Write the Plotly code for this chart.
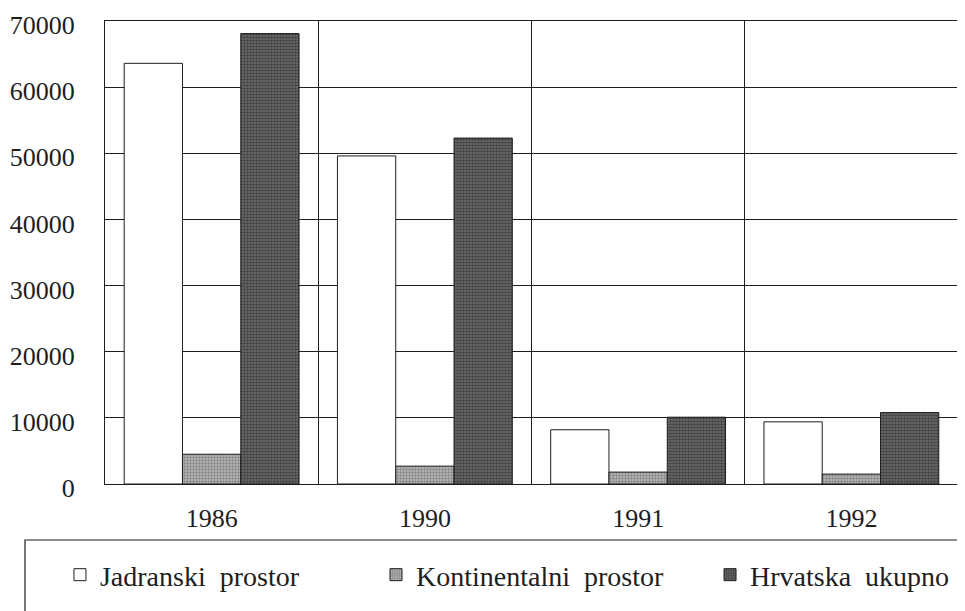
import plotly.graph_objects as go

years = ["1986", "1990", "1991", "1992"]
jadranski = [63600, 49600, 8200, 9400]
kontinentalni = [4500, 2700, 1800, 1500]
hrvatska = [68100, 52300, 10100, 10800]
y_ticks = [0, 10000, 20000, 30000, 40000, 50000, 60000, 70000]
series_names = ["Jadranski\u00a0\u00a0prostor", "Kontinentalni\u00a0\u00a0prostor", "Hrvatska\u00a0\u00a0ukupno"]

x_pos = list(range(len(years)))
font_family = "Liberation Serif, Times New Roman, serif"
ink = "#1e1e1e"

fig = go.Figure()
fig.add_trace(go.Bar(
    x=x_pos, y=jadranski, name=series_names[0], legend="legend",
    marker=dict(color="white", line=dict(color=ink, width=1)),
))
fig.add_trace(go.Bar(
    x=x_pos, y=kontinentalni, name=series_names[1], legend="legend2",
    marker=dict(color="#a0a0a0", line=dict(color=ink, width=1),
                pattern=dict(shape=".", fgcolor="#505050", bgcolor="#bcbcbc",
                             size=3, solidity=0.5)),
))
fig.add_trace(go.Bar(
    x=x_pos, y=hrvatska, name=series_names[2], legend="legend3",
    marker=dict(color="#555555", line=dict(color=ink, width=1),
                pattern=dict(shape=".", fgcolor="#101010", bgcolor="#727272",
                             size=3, solidity=0.6)),
))

legend_common = dict(orientation="h", xanchor="left", y=-0.1965, yanchor="middle",
                     bgcolor="rgba(0,0,0,0)", font=dict(size=28, family=font_family, color=ink),
                     itemwidth=30)

# page body has an 8px default margin, so the figure is sized/offset to compensate
fig.update_layout(
    width=957, height=603,
    margin=dict(l=97, r=7, t=13, b=127),
    paper_bgcolor="white", plot_bgcolor="white",
    barmode="group", bargap=0.18, bargroupgap=0,
    font=dict(family=font_family, size=26, color=ink),
    showlegend=True,
    legend=dict(x=-0.0528, **legend_common),
    legend2=dict(x=0.3177, **legend_common),
    legend3=dict(x=0.7093, **legend_common),
    xaxis=dict(
        range=[-0.5, 3.5], tickmode="array", tickvals=x_pos, ticktext=years,
        showgrid=False, zeroline=False, showline=True, linecolor=ink, linewidth=1,
        mirror=True, ticks="", ticklabelstandoff=11, automargin=False,
        tickfont=dict(size=26, family=font_family, color=ink),
        minor=dict(tick0=0.5, dtick=1, showgrid=True, gridcolor=ink, gridwidth=1, ticks=""),
    ),
    yaxis=dict(
        range=[0, 70000], tickmode="array", tickvals=y_ticks,
        ticktext=[str(v) for v in y_ticks],
        showgrid=True, gridcolor=ink, gridwidth=1, zeroline=False,
        showline=True, linecolor=ink, linewidth=1, mirror=True, ticks="",
        ticklabelstandoff=24, ticklabelshift=4, ticklabeloverflow="allow", automargin=False,
        tickfont=dict(size=26, family=font_family, color=ink),
    ),
    shapes=[dict(type="rect", xref="paper", yref="paper",
                 x0=-0.0938, x1=1.05, y0=-0.121, y1=-0.6,
                 line=dict(color=ink, width=1.2), fillcolor="rgba(0,0,0,0)", layer="below")],
)

fig.write_html("out.html")
